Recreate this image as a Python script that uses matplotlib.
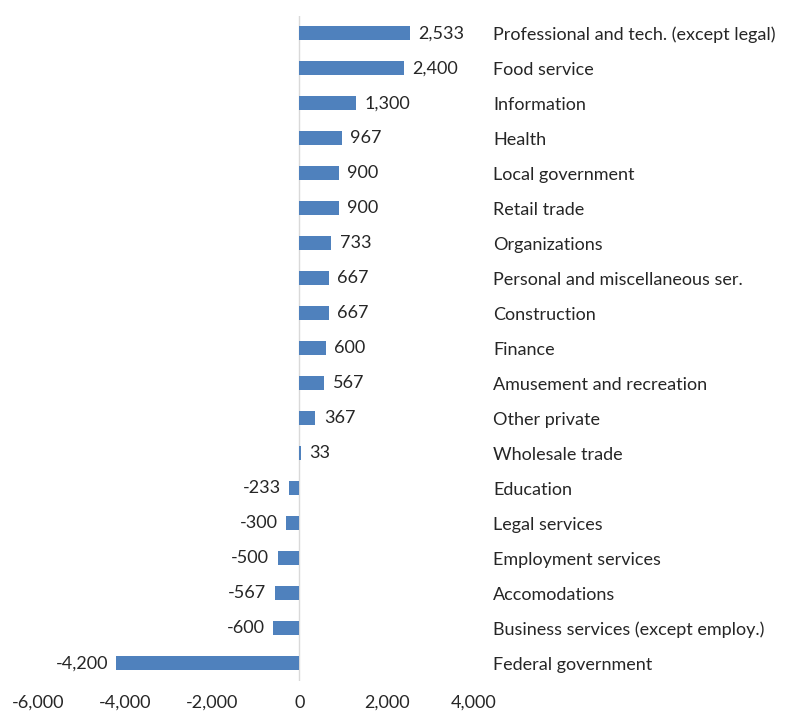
import matplotlib
matplotlib.use("Agg")
import matplotlib.pyplot as plt
from matplotlib.ticker import FuncFormatter

categories = [
    "Professional and tech. (except legal)",
    "Food service",
    "Information",
    "Health",
    "Local government",
    "Retail trade",
    "Organizations",
    "Personal and miscellaneous ser.",
    "Construction",
    "Finance",
    "Amusement and recreation",
    "Other private",
    "Wholesale trade",
    "Education",
    "Legal services",
    "Employment services",
    "Accomodations",
    "Business services (except employ.)",
    "Federal government",
]
values = [2533, 2400, 1300, 967, 900, 900, 733, 667, 667, 600, 567, 367, 33,
          -233, -300, -500, -567, -600, -4200]
x_ticks = [-6000, -4000, -2000, 0, 2000, 4000]

plt.rcParams['font.family'] = ['Lato', 'DejaVu Sans']

fig = plt.figure(figsize=(7.86, 7.15), dpi=100)
ax = fig.add_axes([0.048, 0.048, 0.555, 0.930])

n = len(categories)
ypos = list(range(n))
ax.barh(ypos, values, height=0.4, color="#4f81bd", zorder=2)
ax.set_ylim(n - 0.5, -0.5)
ax.set_xlim(-6000, 4000)

ax.axvline(0, color="#d9d9d9", lw=1, zorder=1)

for y, v in zip(ypos, values):
    off = 6 if v >= 0 else -6
    ax.annotate(f"{v:,}", xy=(v, y), xytext=(off, 0), textcoords="offset points",
                ha="left" if v >= 0 else "right", va="center", fontsize=13,
                color="#262626")

ax.yaxis.tick_right()
ax.set_yticks(ypos)
ax.set_yticklabels(categories, fontsize=13, color="#262626")
ax.tick_params(axis="y", length=0, pad=14)

ax.set_xticks(x_ticks)
ax.xaxis.set_major_formatter(FuncFormatter(lambda v, p: f"{int(v):,}"))
ax.tick_params(axis="x", length=0, pad=10, labelsize=13, labelcolor="#262626")

for s in ax.spines.values():
    s.set_visible(False)

fig.savefig("out.png", dpi=100)
